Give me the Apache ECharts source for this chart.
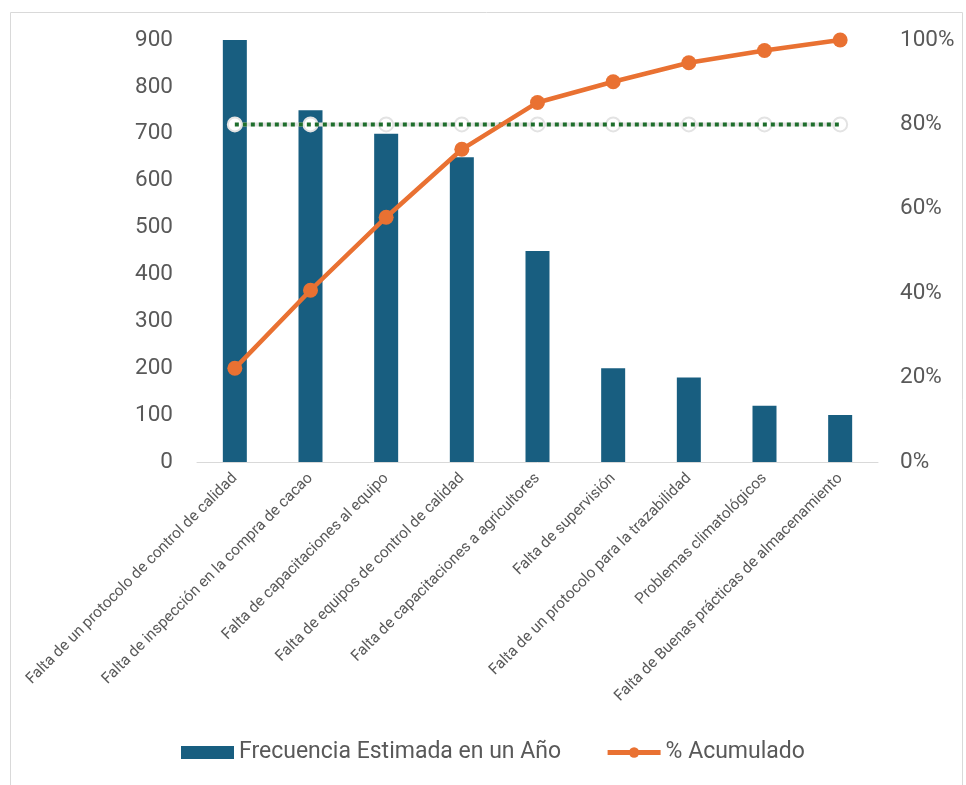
<!DOCTYPE html>
<html><head><meta charset="utf-8">
<script src="https://cdn.jsdelivr.net/npm/echarts@6/dist/echarts.min.js"></script>
<style>html,body{margin:0;padding:0;background:#fff}#c{width:966px;height:785px}</style>
</head><body><div id="c"></div>
<script>
const categories = [
  "Falta de un protocolo de control de calidad",
  "Falta de inspección en la compra de cacao",
  "Falta de capacitaciones al equipo",
  "Falta de equipos de control de calidad",
  "Falta de capacitaciones a agricultores",
  "Falta de supervisión",
  "Falta de un protocolo para la trazabilidad",
  "Problemas climatológicos",
  "Falta de Buenas prácticas de almacenamiento"
];
const frecuencia = [900, 750, 700, 650, 450, 200, 180, 120, 100];
const acumulado = [22.2, 40.7, 58.0, 74.1, 85.2, 90.1, 94.6, 97.5, 100];
const meta = [80, 80, 80, 80, 80, 80, 80, 80, 80];
const leftTicks = [0, 100, 200, 300, 400, 500, 600, 700, 800, 900];
const rightTicks = ["0%", "20%", "40%", "60%", "80%", "100%"];

const FONT = "Roboto";
const chart = echarts.init(document.getElementById('c'), null, {renderer: 'canvas'});
chart.setOption({
  animation: false,
  textStyle: {fontFamily: FONT},
  graphic: [{type: 'rect', shape: {x: 10.5, y: 12.5, width: 952, height: 800},
    style: {fill: 'none', stroke: '#d9d9d9', lineWidth: 1}, silent: true}],
  grid: {left: 197, right: 88, top: 40, bottom: 323, containLabel: false},
  legend: {
    bottom: 16, left: 176, itemGap: 44, itemWidth: 53, itemHeight: 13,
    textStyle: {fontSize: 23, color: '#595959', fontFamily: FONT},
    data: [
      {name: 'Frecuencia Estimada en un Año', icon: 'rect'},
      {name: '% Acumulado', lineStyle: {width: 5}}
    ]
  },
  xAxis: {
    type: 'category', data: categories,
    axisLine: {lineStyle: {color: '#d9d9d9', width: 1}},
    axisTick: {show: false},
    axisLabel: {rotate: 45, interval: 0, fontSize: 15.4, color: '#595959', margin: 14, fontFamily: FONT}
  },
  yAxis: [
    {type: 'value', min: leftTicks[0], max: leftTicks[leftTicks.length-1], interval: 100,
     splitLine: {show: false}, axisLine: {show: false}, axisTick: {show: false},
     axisLabel: {fontSize: 22.5, color: '#595959', margin: 24, fontFamily: FONT}},
    {type: 'value', min: 0, max: 100, interval: 20,
     splitLine: {show: false}, axisLine: {show: false}, axisTick: {show: false},
     axisLabel: {fontSize: 22.5, color: '#595959', margin: 22, fontFamily: FONT,
       formatter: v => rightTicks[Math.round(v/20)]}}
  ],
  series: [
    {name: 'Frecuencia Estimada en un Año', type: 'bar', data: frecuencia, barWidth: 24,
     itemStyle: {color: '#185e80'}, z: 2},
    {name: 'meta80bg', type: 'line', yAxisIndex: 1, data: meta,
     symbol: 'emptyCircle', symbolSize: 14,
     itemStyle: {color: '#e3e3e3', borderColor: '#e3e3e3', borderWidth: 2},
     lineStyle: {color: '#e3e3e3', width: 4}, z: 3},
    {name: 'meta80', type: 'line', yAxisIndex: 1, data: meta, symbol: 'none',
     lineStyle: {color: '#1e6e2c', width: 4, type: [4, 4]}, z: 4},
    {name: '% Acumulado', type: 'line', yAxisIndex: 1, data: acumulado,
     symbol: 'circle', symbolSize: 15,
     itemStyle: {color: '#e97132'}, lineStyle: {color: '#e97132', width: 4.5}, z: 5}
  ]
});
</script></body></html>
